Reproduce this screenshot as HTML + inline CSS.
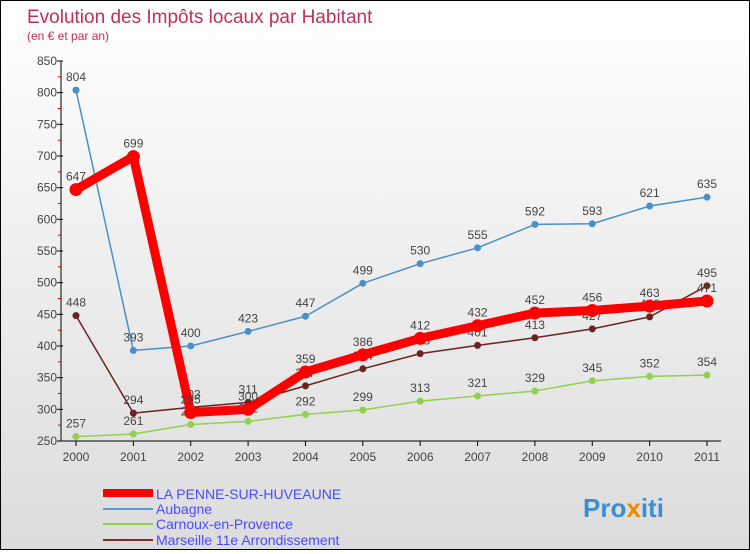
<!DOCTYPE html>
<html><head><meta charset="utf-8"><style>
body{margin:0;width:750px;height:550px;overflow:hidden;font-family:"Liberation Sans",sans-serif}
#c{position:absolute;left:0;top:0;width:748px;height:548px;border:1px solid #000;background:linear-gradient(#fff,#dcdcdc)}
</style></head><body>
<div id="c">
<svg id="s" width="748" height="548" xmlns="http://www.w3.org/2000/svg">
<text x="26" y="22" font-size="19" fill="#c0305a">Evolution des Impôts locaux par Habitant</text>
<text x="26" y="39" font-size="12" fill="#c0305a">(en € et par an)</text>
<g id="axes"></g><g id="series"></g>
<g>
<line x1="102" y1="492" x2="152" y2="492" stroke="#f00" stroke-width="8"/>
<text x="155" y="498" font-size="14" fill="#4a4aff">LA PENNE-SUR-HUVEAUNE</text>
<line x1="102" y1="508" x2="152" y2="508" stroke="#5b9bd5" stroke-width="2"/>
<text x="155" y="513" font-size="14" fill="#4a4aff">Aubagne</text>
<line x1="102" y1="523" x2="152" y2="523" stroke="#92d050" stroke-width="2"/>
<text x="155" y="528" font-size="14" fill="#4a4aff">Carnoux-en-Provence</text>
<line x1="102" y1="539" x2="152" y2="539" stroke="#7b2c2c" stroke-width="2"/>
<text x="155" y="544" font-size="14" fill="#4a4aff">Marseille 11e  Arrondissement</text>
</g>
<text x="582" y="516" font-size="26" font-weight="bold" fill="#3a8fd0">Pro<tspan fill="#f08a00">x</tspan>iti</text>
</svg></div>
<script>
const years=[2000,2001,2002,2003,2004,2005,2006,2007,2008,2009,2010,2011];
const yTicks=[250,300,350,400,450,500,550,600,650,700,750,800,850];
const penne=[647,699,295,300,359,386,412,432,452,456,463,471];
const aubagne=[804,393,400,423,447,499,530,555,592,593,621,635];
const carnoux=[257,261,276,281,292,299,313,321,329,345,352,354];
const marseille=[448,294,303,311,337,364,388,401,413,427,446,495];
const NS="http://www.w3.org/2000/svg";
const X=i=>75+i*(706-75)/11;
const Y=v=>440-(v-250)*(380/600);
function mk(t,a,p){const e=document.createElementNS(NS,t);for(const k in a)e.setAttribute(k,a[k]);p.appendChild(e);return e;}
const ax=document.getElementById('axes');
const yl=mk('line',{x1:60,y1:Y(850),x2:60,y2:440,stroke:'#000'},ax);


const xl=mk('line',{x1:60,y1:440,x2:720,y2:440,stroke:'#000'},ax);


yTicks.forEach(v=>{mk('line',{x1:56,y1:Y(v),x2:62,y2:Y(v),stroke:'#000'},ax);
 if(v<850)mk('line',{x1:57,y1:Y(v+25),x2:60,y2:Y(v+25),stroke:'#d00'},ax);
 const t=mk('text',{x:56,y:Y(v)+4,'font-size':12,fill:'#444','text-anchor':'end'},ax);t.textContent=v;
 
 });
years.forEach((y,i)=>{mk('line',{x1:X(i),y1:440,x2:X(i),y2:445,stroke:'#000'},ax);
 const t=mk('text',{x:X(i),y:460,'font-size':12,fill:'#444','text-anchor':'middle'},ax);t.textContent=y;
 
 });
const sg=document.getElementById('series');
function series(d,col,w,r,name){const g=mk('g',{},sg);
 
 
 mk('polyline',{points:d.map((v,i)=>X(i)+','+Y(v)).join(' '),fill:'none',stroke:col,'stroke-width':w,'stroke-linejoin':'round'},g);
 d.forEach((v,i)=>{const c=mk('circle',{cx:X(i),cy:Y(v),r:r,fill:col},g);
  
  
  const t=mk('text',{x:X(i),y:Y(v)-9,'font-size':12,fill:'#444','text-anchor':'middle'},g);t.textContent=v;
  
  });}
series(carnoux,'#92d050',1.5,3.5,'series-carnoux');
series(marseille,'#6b2222',1.5,3.5,'series-marseille');
series(aubagne,'#4a90c8',1.5,3.5,'series-aubagne');
series(penne,'#f00',9,6.5,'series-la-penne');
</script>
</body></html>
